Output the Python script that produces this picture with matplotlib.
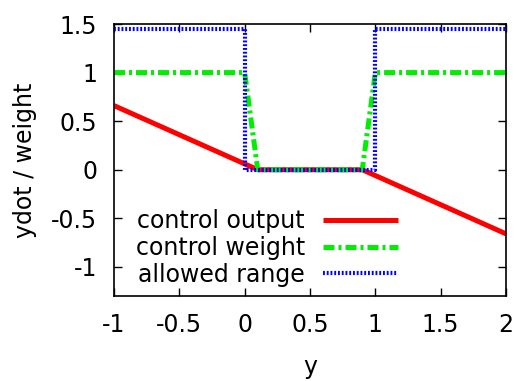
import matplotlib
matplotlib.use("Agg")
import matplotlib.pyplot as plt

plt.rcParams['font.family'] = ['DejaVu Sans']

# Piecewise-linear curves vs. y
y_output = [-1.0, 0.1, 0.9, 2.0]
ydot_output = [0.66, 0.0, 0.0, -0.66]

y_weight = [-1.0, 0.0, 0.1, 0.9, 1.0, 2.0]
weight = [1.0, 1.0, 0.0, 0.0, 1.0, 1.0]

y_range = [-1.0, 0.0, 0.0, 1.0, 1.0, 2.0]
allowed = [1.45, 1.45, 0.0, 0.0, 1.45, 1.45]

labels = ["control output", "control weight", "allowed range"]
xticks = [-1, -0.5, 0, 0.5, 1, 1.5, 2]
xticklabels = ["-1", "-0.5", "0", "0.5", "1", "1.5", "2"]
yticks = [-1, -0.5, 0, 0.5, 1, 1.5]
yticklabels = ["-1", "-0.5", "0", "0.5", "1", "1.5"]

fig = plt.figure(figsize=(5.19, 3.81), dpi=100)
ax = fig.add_axes([114 / 519, 1 - 296 / 381, (506 - 114) / 519, (296 - 24) / 381])

ax.plot(y_output, ydot_output, color="#ff0000", lw=3.6, solid_capstyle="butt",
        label=labels[0])
ax.plot(y_weight, weight, color="#00ee00", lw=3.6, dashes=(2.2, 0.8, 0.6, 0.8),
        label=labels[1])
ax.plot(y_range, allowed, color="#0000ff", lw=3.0, dashes=(0.45, 0.45),
        label=labels[2])

ax.set_xlim(-1, 2)
ax.set_ylim(-1.3, 1.5)
ax.set_xticks(xticks)
ax.set_xticklabels(xticklabels)
ax.set_yticks(yticks)
ax.set_yticklabels(yticklabels)
ax.tick_params(direction="in", length=5.5, width=1, top=True, right=True,
               labelsize=17, pad=12, colors="black")
for s in ax.spines.values():
    s.set_linewidth(1.2)

ax.set_xlabel("y", fontsize=17, labelpad=13)
ax.set_ylabel("ydot / weight", fontsize=17, labelpad=10)

ax.legend(loc="lower left", bbox_to_anchor=(0.031, 0.0), frameon=False,
          markerfirst=False, fontsize=17, handlelength=3.2, handletextpad=0.75,
          labelspacing=0.11, borderaxespad=0.0)

fig.savefig("out.png", dpi=100)
